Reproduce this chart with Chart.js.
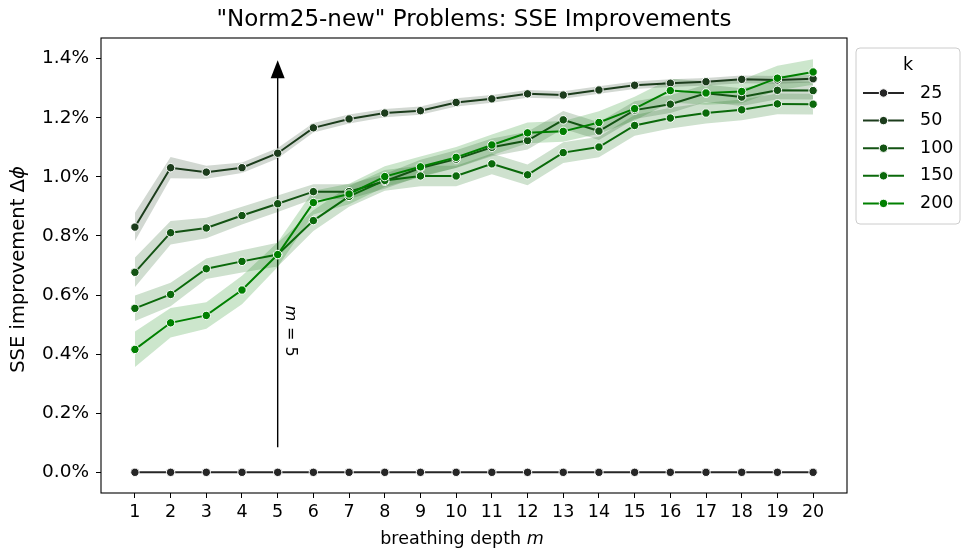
<!DOCTYPE html>
<html>
<head>
<meta charset="utf-8">
<script src="https://cdn.jsdelivr.net/npm/chart.js@4.4.1/dist/chart.umd.min.js"></script>
<style>
  html, body { margin: 0; padding: 0; background: #fff; }
  #wrap { width: 962px; height: 550px; position: relative; }
</style>
</head>
<body>
<div id="wrap"><canvas id="c"></canvas></div>
<script>
// ---------- data ----------
const depth = [1, 2, 3, 4, 5, 6, 7, 8, 9, 10, 11, 12, 13, 14, 15, 16, 17, 18, 19, 20];
const yTicks = [0, 0.2, 0.4, 0.6, 0.8, 1.0, 1.2, 1.4];
const kLabels = ['25', '50', '100', '150', '200'];

const k25 = [0, 0, 0, 0, 0, 0, 0, 0, 0, 0, 0, 0, 0, 0, 0, 0, 0, 0, 0, 0];
const k50 = [0.830, 1.031, 1.016, 1.031, 1.080, 1.166, 1.196, 1.216, 1.224, 1.252, 1.264, 1.281, 1.277, 1.294, 1.310, 1.317, 1.322, 1.330, 1.328, 1.332];
const k100 = [0.677, 0.811, 0.827, 0.869, 0.909, 0.950, 0.950, 0.985, 1.030, 1.060, 1.100, 1.123, 1.193, 1.155, 1.226, 1.246, 1.283, 1.270, 1.293, 1.292];
const k150 = [0.555, 0.602, 0.689, 0.714, 0.737, 0.852, 0.934, 0.988, 1.003, 1.003, 1.044, 1.007, 1.082, 1.101, 1.174, 1.199, 1.216, 1.227, 1.247, 1.246];
const k200 = [0.416, 0.506, 0.531, 0.617, 0.737, 0.913, 0.942, 1.001, 1.034, 1.066, 1.108, 1.149, 1.154, 1.184, 1.231, 1.292, 1.284, 1.289, 1.334, 1.355];

// confidence-band half widths
const ci25 = [0, 0, 0, 0, 0, 0, 0, 0, 0, 0, 0, 0, 0, 0, 0, 0, 0, 0, 0, 0];
const ci50 = [0.048, 0.036, 0.022, 0.018, 0.018, 0.016, 0.015, 0.014, 0.014, 0.014, 0.013, 0.013, 0.013, 0.013, 0.013, 0.013, 0.013, 0.013, 0.013, 0.013];
const ci100 = [0.050, 0.040, 0.035, 0.030, 0.028, 0.025, 0.025, 0.025, 0.028, 0.030, 0.030, 0.030, 0.030, 0.030, 0.030, 0.030, 0.030, 0.030, 0.030, 0.030];
const ci150 = [0.043, 0.040, 0.035, 0.038, 0.040, 0.035, 0.035, 0.035, 0.035, 0.035, 0.035, 0.035, 0.035, 0.035, 0.035, 0.035, 0.035, 0.035, 0.035, 0.035];
const ci200 = [0.060, 0.050, 0.045, 0.048, 0.042, 0.040, 0.035, 0.035, 0.035, 0.035, 0.035, 0.035, 0.035, 0.038, 0.040, 0.040, 0.040, 0.040, 0.042, 0.043];

// annotation: arrow at m = 5
const arrowDepth = 5;
const arrowFrom = 0.085;
const arrowTo = 1.395;
const arrowLabelAt = 0.478;

// ---------- styling ----------
const colors = ['#262626', '#1c3c1c', '#135313', '#0a690a', '#008000'];
const series = [k25, k50, k100, k150, k200];
const cis = [ci25, ci50, ci100, ci150, ci200];
const FONT = "'DejaVu Sans', 'Liberation Sans', sans-serif";
const FS = 17.5;

function hexA(hex, a) {
  const n = parseInt(hex.slice(1), 16);
  return `rgba(${(n >> 16) & 255},${(n >> 8) & 255},${n & 255},${a})`;
}
const pts = arr => arr.map((v, i) => ({ x: depth[i], y: v }));

const datasets = [];
series.forEach((s, i) => {
  datasets.push({
    label: kLabels[i],
    isMain: true,
    data: pts(s),
    borderColor: colors[i],
    backgroundColor: colors[i],
    borderWidth: 2,
    pointRadius: 4.2,
    pointBorderWidth: 1,
    pointBorderColor: '#ffffff',
    pointBackgroundColor: colors[i],
    fill: false,
    order: 5 - i,
    tension: 0
  });
});
series.forEach((s, i) => {
  if (cis[i].every(v => v === 0)) return;
  datasets.push({
    label: 'lo' + kLabels[i],
    data: pts(s.map((v, j) => v - cis[i][j])),
    borderWidth: 0, pointRadius: 0, fill: false, order: 20 + i,
    borderColor: 'rgba(0,0,0,0)'
  });
  datasets.push({
    label: 'hi' + kLabels[i],
    data: pts(s.map((v, j) => v + cis[i][j])),
    borderWidth: 0, pointRadius: 0, fill: '-1', order: 20 + i,
    borderColor: 'rgba(0,0,0,0)',
    backgroundColor: hexA(colors[i], 0.2)
  });
});

// ---------- plugins ----------
const arrowPlugin = {
  id: 'arrowPlugin',
  beforeDatasetsDraw(chart) {
    const { ctx, scales: { x, y } } = chart;
    const ax = x.getPixelForValue(arrowDepth);
    const y0 = y.getPixelForValue(arrowFrom);
    const y1 = y.getPixelForValue(arrowTo);
    ctx.save();
    ctx.strokeStyle = '#000'; ctx.fillStyle = '#000';
    ctx.lineWidth = 1.4;
    ctx.beginPath(); ctx.moveTo(ax, y0); ctx.lineTo(ax, y1 + 14); ctx.stroke();
    ctx.beginPath();
    ctx.moveTo(ax, y1); ctx.lineTo(ax - 7, y1 + 18); ctx.lineTo(ax + 7, y1 + 18);
    ctx.closePath(); ctx.fill();
    const cy = y.getPixelForValue(arrowLabelAt);
    ctx.translate(ax + 12, cy);
    ctx.rotate(Math.PI / 2);
    ctx.textBaseline = 'middle';
    ctx.textAlign = 'left';
    const fi = 'italic 16px ' + FONT, fn = '16px ' + FONT;
    ctx.font = fi; const wm = ctx.measureText('m').width;
    ctx.font = fn; const we = ctx.measureText('=').width; const w5 = ctx.measureText('5').width;
    const gap = 6;
    const total = wm + gap + we + gap + w5;
    let px = -total / 2;
    ctx.font = fi; ctx.fillText('m', px, 0); px += wm + gap;
    ctx.font = fn; ctx.fillText('=', px, 0); px += we + gap;
    ctx.fillText('5', px, 0);
    ctx.restore();
  }
};

const decorPlugin = {
  id: 'decorPlugin',
  afterDraw(chart) {
    const { ctx, chartArea: a } = chart;
    ctx.save();
    ctx.strokeStyle = '#000'; ctx.lineWidth = 1.1;
    ctx.strokeRect(a.left, a.top, a.right - a.left, a.bottom - a.top);

    // x axis title
    ctx.fillStyle = '#000';
    ctx.textBaseline = 'middle';
    ctx.textAlign = 'left';
    const fn = FS + 'px ' + FONT, fi = 'italic ' + FS + 'px ' + FONT;
    ctx.font = fn; const wx1 = ctx.measureText('breathing depth ').width;
    ctx.font = fi; const wx2 = ctx.measureText('m').width;
    let sx = (a.left + a.right) / 2 - 12 - (wx1 + wx2) / 2;
    ctx.font = fn; ctx.fillText('breathing depth ', sx, 539);
    ctx.font = fi; ctx.fillText('m', sx + wx1, 539);

    // y axis title
    const yfn = '19.5px ' + FONT, yfi = 'italic 19.5px ' + FONT;
    ctx.save();
    ctx.translate(19, (a.top + a.bottom) / 2 + 4);
    ctx.rotate(-Math.PI / 2);
    ctx.font = yfn; const wy1 = ctx.measureText('SSE improvement \u0394').width;
    ctx.font = yfi; const wy2 = ctx.measureText('\u03d5').width;
    let sy = -(wy1 + wy2) / 2;
    ctx.font = yfn; ctx.fillText('SSE improvement \u0394', sy, 0);
    ctx.font = yfi; ctx.fillText('\u03d5', sy + wy1, 0);
    ctx.restore();

    // legend
    const lx = 856, ly = 48, lw = 104, lh = 176, r = 4;
    ctx.beginPath();
    ctx.moveTo(lx + r, ly); ctx.lineTo(lx + lw - r, ly); ctx.arcTo(lx + lw, ly, lx + lw, ly + r, r);
    ctx.lineTo(lx + lw, ly + lh - r); ctx.arcTo(lx + lw, ly + lh, lx + lw - r, ly + lh, r);
    ctx.lineTo(lx + r, ly + lh); ctx.arcTo(lx, ly + lh, lx, ly + lh - r, r);
    ctx.lineTo(lx, ly + r); ctx.arcTo(lx, ly, lx + r, ly, r);
    ctx.closePath();
    ctx.fillStyle = 'rgba(255,255,255,0.8)'; ctx.fill();
    ctx.strokeStyle = '#cccccc'; ctx.lineWidth = 1; ctx.stroke();

    ctx.fillStyle = '#000';
    ctx.font = fn; ctx.textAlign = 'center';
    ctx.fillText('k', lx + lw / 2, 65);
    ctx.textAlign = 'left';
    const mains = chart.data.datasets.filter(d => d.isMain);
    mains.forEach((d, i) => {
      const yy = 93 + i * 27.6;
      ctx.strokeStyle = d.borderColor; ctx.lineWidth = 2;
      ctx.beginPath(); ctx.moveTo(863, yy); ctx.lineTo(904, yy); ctx.stroke();
      ctx.beginPath(); ctx.arc(883.5, yy, 4.2, 0, Math.PI * 2);
      ctx.fillStyle = d.borderColor; ctx.fill();
      ctx.strokeStyle = '#fff'; ctx.lineWidth = 1; ctx.stroke();
      ctx.fillStyle = '#000';
      ctx.fillText(d.label, 920, yy);
    });
    ctx.restore();
  }
};

// ---------- chart ----------
Chart.defaults.font.family = FONT;
Chart.defaults.font.size = FS;
Chart.defaults.color = '#000';

new Chart(document.getElementById('c'), {
  type: 'line',
  data: { datasets },
  options: {
    responsive: true,
    maintainAspectRatio: false,
    animation: false,
    events: [],
    layout: { padding: { left: 0, right: 115, top: 0, bottom: 0 } },
    plugins: {
      legend: { display: false },
      tooltip: { enabled: false },
      title: {
        display: true,
        fullSize: false,
        text: '"Norm25-new" Problems: SSE Improvements',
        font: { size: 23, weight: 'normal', lineHeight: 1.2 },
        color: '#000',
        padding: { top: 6, bottom: 4.4 }
      }
    },
    scales: {
      x: {
        type: 'linear',
        min: 0.05,
        max: 20.95,
        afterBuildTicks: s => { s.ticks = depth.map(v => ({ value: v })); },
        afterFit: s => { s.height = 57; },
        ticks: { callback: v => String(v), padding: 4, maxRotation: 0, autoSkip: false, color: '#000' },
        grid: { drawOnChartArea: false, drawTicks: true, tickLength: 5, color: '#000', tickWidth: 1 },
        border: { display: false }
      },
      y: {
        type: 'linear',
        min: -0.07,
        max: 1.47,
        afterBuildTicks: s => { s.ticks = yTicks.map(v => ({ value: v })); },
        afterFit: s => { s.width = 101; },
        ticks: { callback: v => v.toFixed(1) + '%', padding: 7, color: '#000', font: { size: 18.5 } },
        grid: { drawOnChartArea: false, drawTicks: true, tickLength: 5, color: '#000', tickWidth: 1 },
        border: { display: false }
      }
    }
  },
  plugins: [arrowPlugin, decorPlugin]
});
</script>
</body>
</html>
